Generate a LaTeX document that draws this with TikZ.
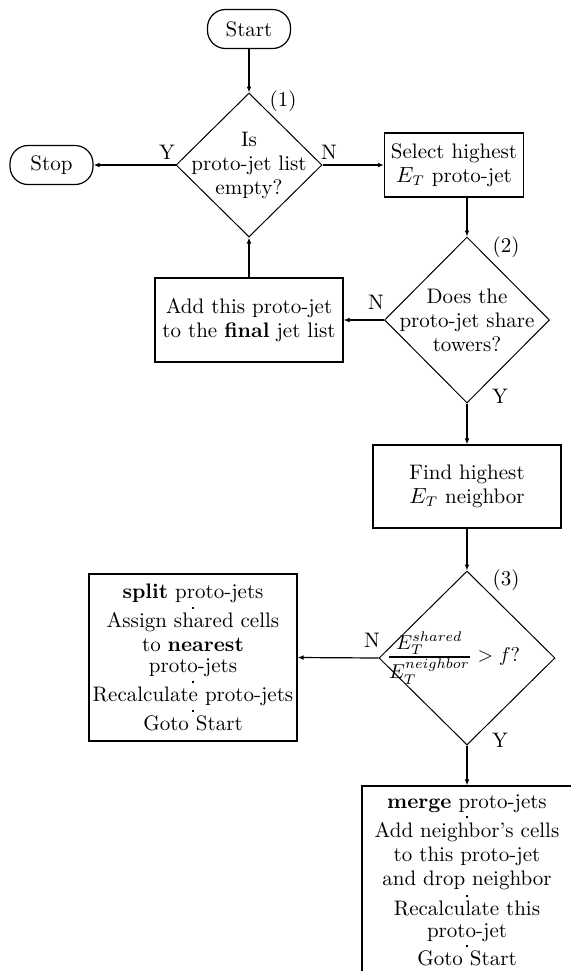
\documentclass[tikz,border=0pt]{standalone}
\usepackage{amsmath}
\usetikzlibrary{shapes.geometric,arrows.meta}
\newcommand{\sepdot}{\rule{1pt}{1pt}}
\begin{document}
\begin{tikzpicture}[x=0.5pt,y=-0.5pt,
  every node/.style={font=\fontsize{10.5}{12}\selectfont},
  term/.style={draw, line width=0.6pt, rounded corners=9pt, minimum width=41.5pt, minimum height=19.5pt, inner sep=0pt},
  box/.style={draw, line width=0.6pt, align=center, inner sep=0pt},
  dia/.style={draw, line width=0.5pt, diamond, inner sep=0pt},
  lbl/.style={inner sep=0pt},
  arr/.style={line width=0.6pt, -{Latex[length=3pt,width=2.4pt]}}]
\useasboundingbox (0,0) rectangle (571,971);
\clip (0,0) rectangle (571,971);

\node[term] (start) at (249,29) {Start};
\node[dia, minimum width=73pt, minimum height=72pt] (d1) at (249,165) {};
\node[align=center, inner sep=0pt] (t1) at (d1) {Is\\proto-jet list\\empty?};
\node[term] (stop) at (51.5,165) {Stop};
\node[box, minimum width=69.5pt, minimum height=32pt] (select) at (454,165) {Select highest\\$E_T$ proto-jet};

\node[dia, minimum width=82.5pt, minimum height=83pt] (d2) at (467,320) {};
\node[align=center, inner sep=0pt] (t2) at (d2) {Does the\\proto-jet share\\towers?};
\node[box, minimum width=94pt, minimum height=42pt] (add) at (249,320) {Add this proto-jet\\to the \textbf{final} jet list};

\node[box, minimum width=94pt, minimum height=41.5pt] (find) at (467,486.5) {Find highest\\$E_T$ neighbor};

\node[dia, minimum width=88pt, minimum height=87pt] (d3) at (467,658) {};
\node[inner sep=0pt, font=\fontsize{10}{12}\selectfont] (t3) at ([xshift=-6.75pt]d3.center) {$\genfrac{}{}{0.8pt}{1}{\displaystyle E_T^{shared}}{\displaystyle E_T^{neighbor}} > f?$};

\node[box, minimum width=104pt, minimum height=83.5pt] (split) at (193,657.5) {\textbf{split} proto-jets\\[-7pt]\sepdot\\[-2.5pt]Assign shared cells\\to \textbf{nearest}\\[-1.5pt]proto-jets\\[-7pt]\sepdot\\[-2.5pt]Recalculate proto-jets\\[-7pt]\sepdot\\[-2.5pt]Goto Start};

\node[box, minimum width=105pt, minimum height=94pt] (merge) at (467,880) {\textbf{merge} proto-jets\\[-7pt]\sepdot\\[-2.5pt]Add neighbor's cells\\to this proto-jet\\and drop neighbor\\[-6pt]\sepdot\\[-3pt]Recalculate this\\[-1pt]proto-jet\\[-7pt]\sepdot\\[-3pt]Goto Start};

\node[lbl] (n1) at (283,101) {(1)};
\node[lbl] (y1) at (167,152) {Y};
\node[lbl] (no1) at (329,152) {N};
\node[lbl] (n2) at (506,247) {(2)};
\node[lbl] (no2) at (376,302) {N};
\node[lbl] (y2) at (500,396) {Y};
\node[lbl] (n3) at (506,580) {(3)};
\node[lbl] (no3) at (372,640) {N};
\node[lbl] (y3) at (500,740) {Y};

\draw[arr] (start.south) -- (d1.north);
\draw[arr] (d1.west) -- (stop.east);
\draw[arr] (d1.east) -- (select.west);
\draw[arr] (select.south -| d2.north) -- (d2.north);
\draw[arr] (d2.west) -- (add.east);
\draw[arr] (add.north) -- (d1.south);
\draw[arr] (d2.south) -- (find.north);
\draw[arr] (find.south) -- (d3.north);
\draw[arr] (d3.west) -- (split.east);
\draw[arr] (d3.south) -- (merge.north);
\end{tikzpicture}
\end{document}
